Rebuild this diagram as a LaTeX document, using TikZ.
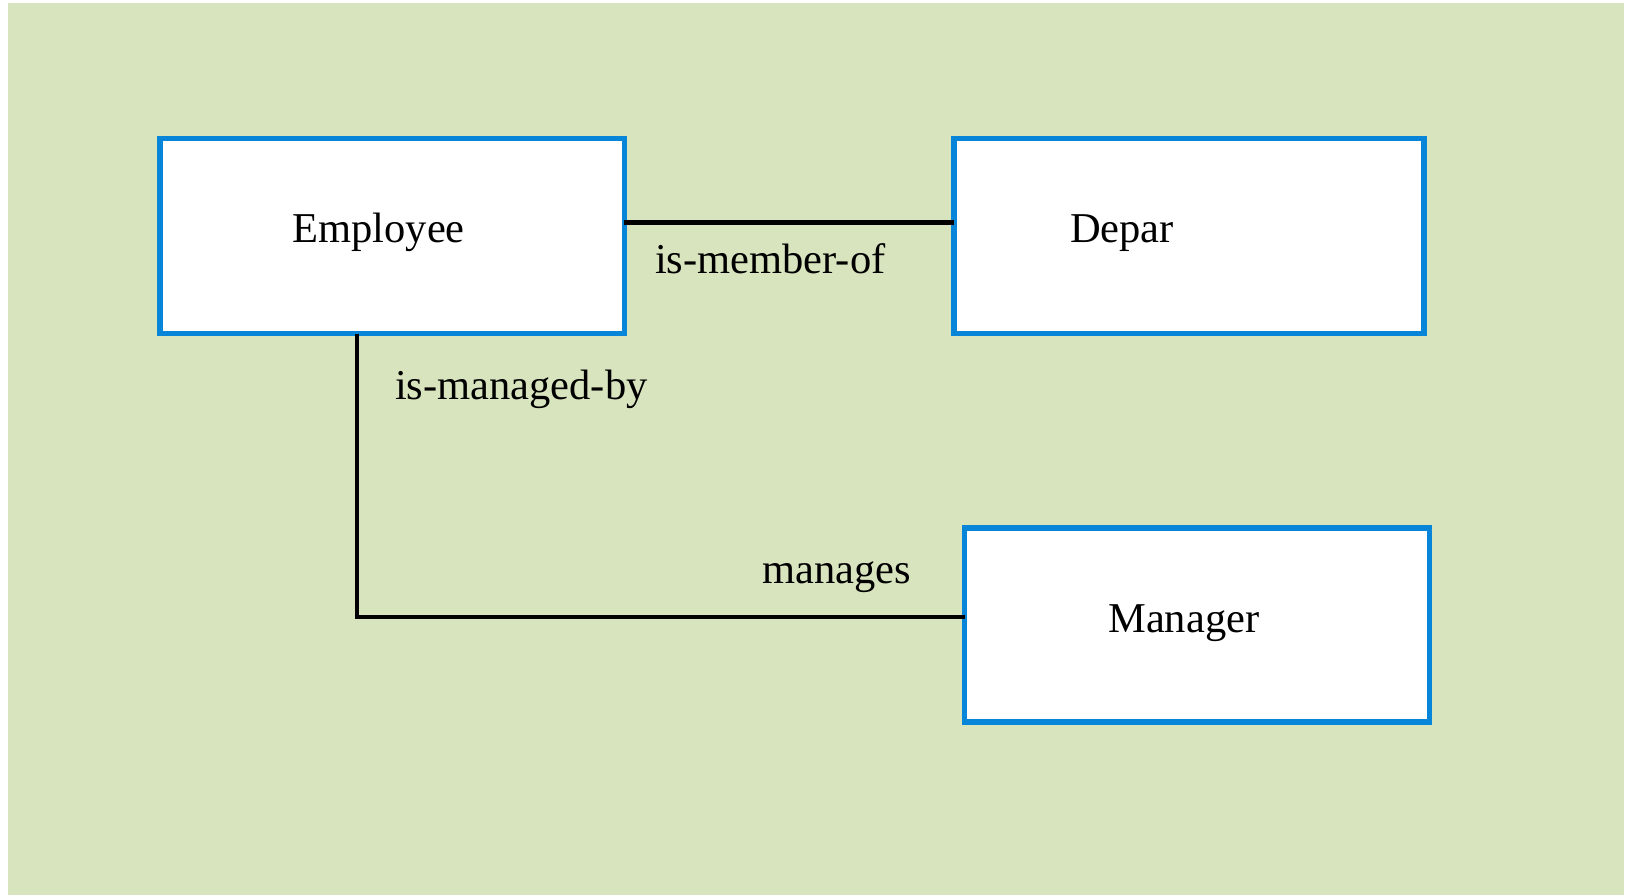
\documentclass[tikz,border=0pt]{standalone}
\usepackage{fontspec}
\setmainfont{Liberation Serif}
\definecolor{bggreen}{HTML}{D8E4BE}
\definecolor{boxblue}{HTML}{0785D8}
\tikzset{
  entity/.style={draw=boxblue, fill=white, line width=5.3pt, rectangle, inner sep=0pt, outer sep=0pt},
  lbl/.style={anchor=base west, inner sep=0pt, outer sep=0pt, font=\fontsize{42.5}{49}\selectfont},
  link/.style={draw=black, line width=4.6pt}
}
\begin{document}
\begin{tikzpicture}[x=1pt,y=-1pt]
\useasboundingbox (0,0) rectangle (1631,895);
\fill[bggreen] (8,3) rectangle (1624,895);
% entities
\node[entity, minimum width=464.5pt, minimum height=194.8pt] (emp) at (392.2,236.1) {};
\node[entity, minimum width=470pt, minimum height=194.6pt] (dep) at (1189,236) {};
\node[entity, minimum width=464.8pt, minimum height=194pt] (mgr) at (1197.1,625) {};
% texts
\node[lbl] (tEmp) at (292.5,242.7) {Employee};
\node[lbl] (tDep) at (1070,242.7) {Depar};
\node[lbl] (tMgr) at (1108.3,632.7) {Manager};
\node[lbl] (tMem) at (655,273.3) {is-member-of};
\node[lbl] (tMby) at (395,399) {is-managed-by};
\node[lbl] (tMan) at (762.5,583.3) {manages};
% connectors
\coordinate (memb) at (700,222.3);
\coordinate (corner) at (357,616.8);
\draw[link] (emp.east |- memb) -- (dep.west |- memb);
\draw[link] (emp.south -| corner) -- (corner) -- (corner -| mgr.west);
\end{tikzpicture}
\end{document}
